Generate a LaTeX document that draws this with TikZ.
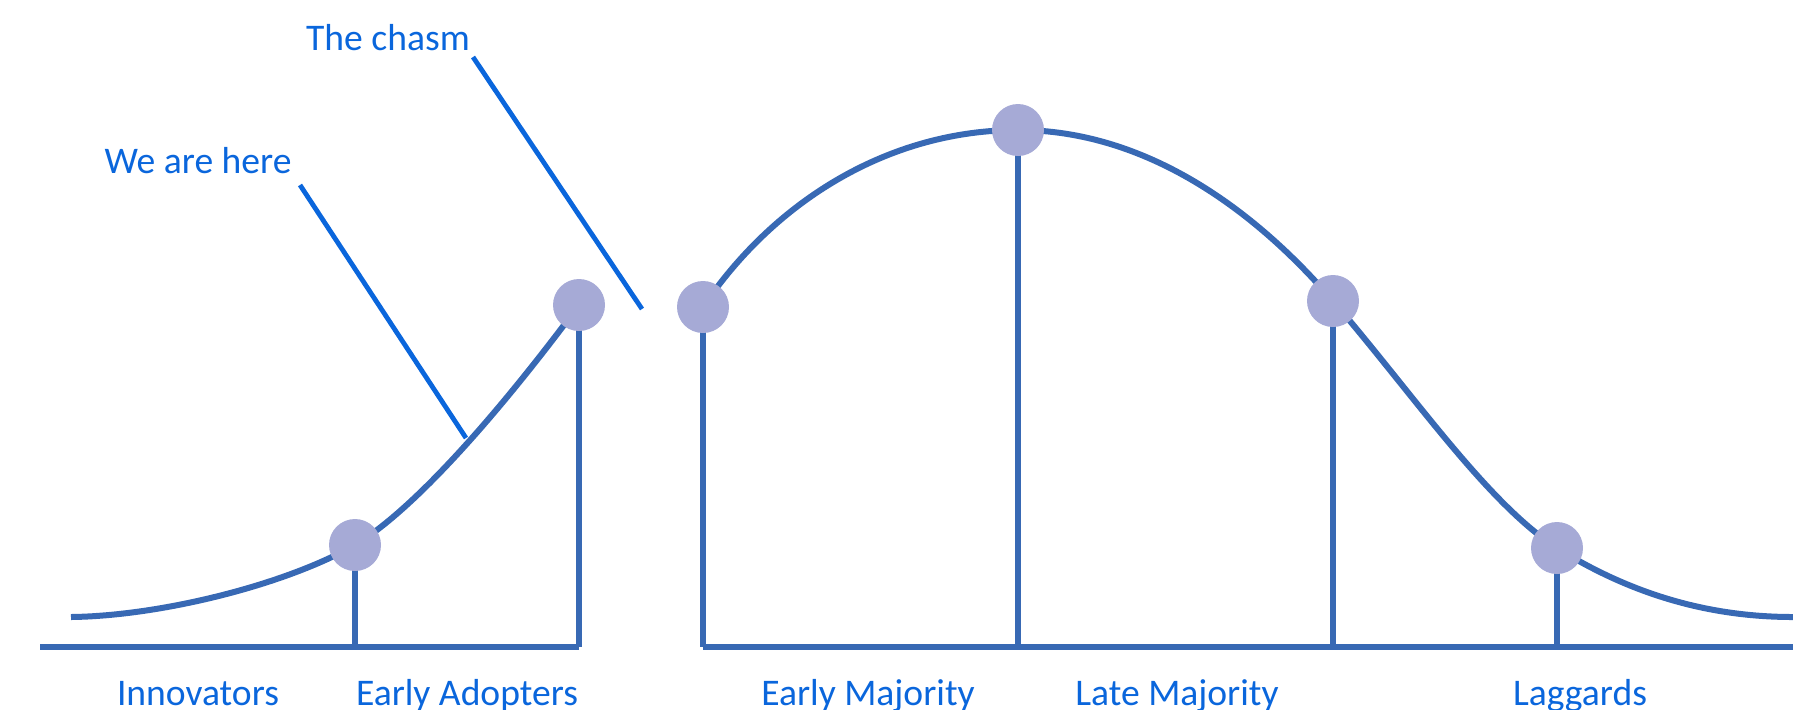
\documentclass[tikz,border=0pt]{standalone}
\usepackage{fontspec}
\setmainfont{Carlito}
\definecolor{curveblue}{HTML}{3869B4}
\definecolor{textblue}{HTML}{0A66DC}
\definecolor{dotfill}{HTML}{A6AAD6}
\pgfdeclarelayer{bg}
\pgfsetlayers{bg,main}
\begin{document}
\begin{tikzpicture}[x=0.5pt,y=-0.5pt,
  curve/.style={draw=curveblue,line width=3pt},
  axisline/.style={draw=curveblue,line width=3.4pt},
  stem/.style={draw=curveblue,line width=3.2pt},
  dot/.style={circle,fill=dotfill,minimum size=26pt,inner sep=0pt},
  lbl/.style={text=textblue,font=\fontsize{18.8}{20}\selectfont,anchor=base,inner sep=0pt},
  pointer/.style={draw=textblue,line width=2.4pt}]
\useasboundingbox (0,0) rectangle (1793,709);

% dots
\node[dot] (c1) at (355,545) {};
\node[dot] (c2) at (579,305) {};
\node[dot] (c3) at (703,307) {};
\node[dot] (c4) at (1018,130) {};
\node[dot] (c5) at (1333,301) {};
\node[dot] (c6) at (1557,548) {};

% axis points
\coordinate (a0) at (40,647);
\coordinate (b1) at (355,647);
\coordinate (b2) at (579,647);
\coordinate (b3) at (703,647);
\coordinate (b4) at (1018,647);
\coordinate (b5) at (1333,647);
\coordinate (b6) at (1557,647);
\coordinate (a1) at (1793,647);

% curve ends
\coordinate (t0) at (71,617);
\coordinate (t1) at (1793,617);

% labels
\node[lbl] (chasm) at (388,50) {The chasm};
\node[lbl] (here) at (198,173) {We are here};
\node[lbl] (inn) at (198,705) {Innovators};
\node[lbl] (ea) at (467,705) {Early Adopters};
\node[lbl] (em) at (868,705) {Early Majority};
\node[lbl] (lm) at (1177,705) {Late Majority};
\node[lbl] (lag) at (1580,705) {Laggards};

\coordinate (hereA) at (300,185);
\coordinate (hereB) at (466,438);
\coordinate (chasmA) at (473,57);
\coordinate (chasmB) at (642,309);

\begin{pgfonlayer}{bg}
  % early part (before the chasm)
  \draw[curve] (t0) .. controls (160,616) and (285,585) .. (c1.center)
                    .. controls (425,503) and (522,382) .. (c2.center);
  % main bell
  \draw[curve] (c3.center) .. controls (775,200) and (890,130) .. (c4.center)
                    .. controls (1146,130) and (1255,210) .. (c5.center)
                    .. controls (1413,394) and (1487,503) .. (c6.center)
                    .. controls (1640,600) and (1720,617) .. (t1);
  \draw[axisline] (a0) -- (b2);
  \draw[axisline] (b3) -- (a1);
  \draw[stem] (c1.center) -- (b1);
  \draw[stem] (c2.center) -- (b2);
  \draw[stem] (c3.center) -- (b3);
  \draw[stem] (c4.center) -- (b4);
  \draw[stem] (c5.center) -- (b5);
  \draw[stem] (c6.center) -- (b6);
  \draw[pointer] (hereA) -- (hereB);
  \draw[pointer] (chasmA) -- (chasmB);
\end{pgfonlayer}
\end{tikzpicture}
\end{document}
